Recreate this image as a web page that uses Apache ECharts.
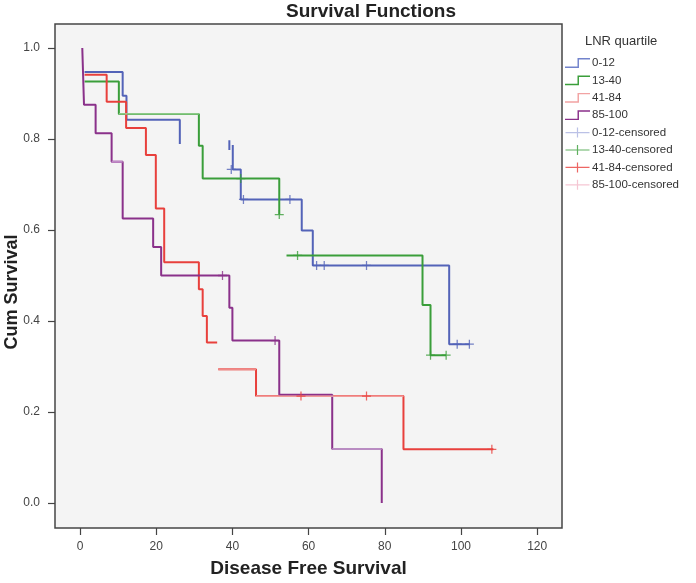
<!DOCTYPE html>
<html>
<head>
<meta charset="utf-8">
<script src="https://cdn.jsdelivr.net/npm/echarts@6/dist/echarts.min.js"></script>
<style>html,body{margin:0;padding:0;background:#fff;}#c{width:696px;height:583px;}</style>
</head>
<body>
<div id="c"></div>
<script>
// ---- data (time, cumulative survival); null marks a break in the drawn curve ----
const groupNames = ['0-12', '13-40', '41-84', '85-100'];
const censorNames = ['0-12-censored', '13-40-censored', '41-84-censored', '85-100-censored'];
const xTicks = [0, 20, 40, 60, 80, 100, 120];
const yTicks = [0.0, 0.2, 0.4, 0.6, 0.8, 1.0];

const time_0_12 = [1.2, 11.2, 12.2, 26.2, null, 39.2, 39.2, null, 40.1, 40.1, 42.2, 58.2, 61.1, 96.9, 102.3];
const surv_0_12 = [0.947, 0.895, 0.842, 0.789, null, 0.797, 0.776, null, 0.787, 0.733, 0.667, 0.599, 0.522, 0.349, 0.349];

const time_13_40 = [1.2, 10.2, 31.2, 32.2, 52.3, null, 54.2, 89.9, 92.0, 96.1];
const surv_13_40 = [0.926, 0.855, 0.785, 0.713, 0.634, null, 0.544, 0.435, 0.325, 0.325];

const time_41_84 = [1.2, 7.0, 12.1, 17.3, 19.9, 22.1, 31.2, 32.2, 33.3, 36.0, null, 36.3, 46.2, 84.9, 108.5];
const surv_41_84 = [0.941, 0.882, 0.824, 0.765, 0.647, 0.529, 0.470, 0.411, 0.353, 0.353, null, 0.294, 0.235, 0.118, 0.118];

const time_85_100 = [0.6, 1.05, 4.1, 8.3, 11.2, 19.2, 21.3, 39.2, 40.0, 52.3, 66.2, 79.2];
const surv_85_100 = [1.0, 0.875, 0.8125, 0.75, 0.625, 0.5625, 0.5, 0.429, 0.357, 0.238, 0.119, 0.0];

const censTime_0_12 = [39.7, 42.9, 55.1, 62.1, 64.1, 75.2, 99.0, 102.2];
const censSurv_0_12 = [0.733, 0.667, 0.667, 0.522, 0.522, 0.522, 0.349, 0.349];
const censTime_13_40 = [42.2, 52.3, 57.1, 92.0, 96.1];
const censSurv_13_40 = [0.713, 0.634, 0.544, 0.325, 0.325];
const censTime_41_84 = [58.0, 75.2, 108.1];
const censSurv_41_84 = [0.235, 0.235, 0.118];
const censTime_85_100 = [37.4, 51.2];
const censSurv_85_100 = [0.5, 0.357];

// ---- styling (kept apart from the data) ----
const lineColors = ['#5363b8', '#3a9e3a', '#e8403c', '#8a318a'];
const legendLineColors = ['#7283cc', '#3a9e3a', '#f2a3a3', '#8a318a'];
const legendCensColors = ['#aab2e0', '#3a9e3a', '#e8403c', '#f2b8c8'];
// faded horizontal runs in the picture: [group, point index]
const fadedRuns = [
  { g: 1, k: 1, color: '#a9d9a3', width: 1.3 },
  { g: 2, k: 11, color: '#ef8a88', width: 2 },
  { g: 2, k: 12, color: '#f6baba', width: 1.3 },
  { g: 3, k: 3, color: '#c08cc8', width: 2 },
  { g: 3, k: 10, color: '#b98cc2', width: 2 }
];

function pairs(t, s) {
  return t.map((v, i) => (v === null || s[i] === null) ? ['-', '-'] : [v, s[i]]);
}
const curves = [[time_0_12, surv_0_12], [time_13_40, surv_13_40], [time_41_84, surv_41_84], [time_85_100, surv_85_100]];
const cens = [[censTime_0_12, censSurv_0_12], [censTime_13_40, censSurv_13_40], [censTime_41_84, censSurv_41_84], [censTime_85_100, censSurv_85_100]];

const stepIcon = 'path://M0,9 L12,9 L12,1 L24,1 L24,2.4 L13.4,2.4 L13.4,10.4 L0,10.4 Z';
const censIcon = 'path://M0,4.4 L11.4,4.4 L11.4,0 L12.6,0 L12.6,4.4 L24,4.4 L24,5.6 L12.6,5.6 L12.6,10 L11.4,10 L11.4,5.6 L0,5.6 Z';
const plusSym = 'path://M4.3,0 L5.7,0 L5.7,4.3 L10,4.3 L10,5.7 L5.7,5.7 L5.7,10 L4.3,10 L4.3,5.7 L0,5.7 L0,4.3 L4.3,4.3 Z';

const series = [];
curves.forEach((c, i) => {
  series.push({
    name: groupNames[i], type: 'line',
    step: 'end', showSymbol: false, connectNulls: false, clip: false,
    data: pairs(c[0], c[1]),
    lineStyle: { color: lineColors[i], width: 2 },
    itemStyle: { color: lineColors[i] },
    z: 3
  });
});
fadedRuns.forEach(f => {
  const t = curves[f.g][0], s = curves[f.g][1];
  series.push({
    type: 'line', showSymbol: false, clip: false, silent: true,
    data: [[t[f.k], s[f.k]], [t[f.k + 1], s[f.k]]],
    lineStyle: { color: f.color, width: f.width }, z: 3.5
  });
});
cens.forEach((c, i) => {
  series.push({
    name: censorNames[i], type: 'scatter',
    symbol: plusSym, symbolSize: 9, clip: false,
    data: pairs(c[0], c[1]),
    itemStyle: { color: lineColors[i] },
    z: 4
  });
});

const legendData = groupNames.map((n, i) => ({ name: n, icon: stepIcon, itemStyle: { color: legendLineColors[i] } }))
  .concat(censorNames.map((n, i) => ({ name: n, icon: censIcon, itemStyle: { color: legendCensColors[i] } })));

const font = "'Liberation Sans', Arial, sans-serif";
const option = {
  backgroundColor: '#ffffff',
  animation: false,
  textStyle: { fontFamily: font },
  title: [
    { text: 'Survival Functions', left: 366, textAlign: 'center', top: -3,
      textStyle: { fontFamily: font, fontWeight: 'bold', fontSize: 19, color: '#222' } },
    { text: 'LNR quartile', left: 580, top: 30,
      textStyle: { fontFamily: font, fontWeight: 'normal', fontSize: 13, color: '#333' } }
  ],
  legend: {
    orient: 'vertical', left: 560, top: 52, itemWidth: 25, itemHeight: 10, itemGap: 5.4,
    textStyle: { fontFamily: font, fontSize: 11.5, lineHeight: 12, color: '#333', padding: [0, 0, 0, -3] },
    data: legendData, selectedMode: false
  },
  grid: { left: 55, top: 24, width: 507, height: 505, show: true, backgroundColor: '#f4f4f4',
      borderColor: '#454545', borderWidth: 1.5 },
  xAxis: { type: 'value', min: -6.562, max: 126.51,
      axisLine: { show: false, onZero: false },
      axisTick: { show: true, length: 7, customValues: xTicks, lineStyle: { color: '#444', width: 1.2 } },
      axisLabel: { margin: 13, color: '#444', fontSize: 12, fontFamily: font, customValues: xTicks,
        formatter: v => String(Math.round(v)) },
      splitLine: { show: false },
      name: 'Disease Free Survival', nameLocation: 'middle', nameGap: 31,
      nameTextStyle: { fontFamily: font, fontWeight: 'bold', fontSize: 19, color: '#222' } },
  yAxis: { type: 'value', min: -0.0548, max: 1.0526,
      axisLine: { show: false, onZero: false },
      axisTick: { show: true, length: 7, customValues: yTicks, lineStyle: { color: '#444', width: 1.2 } },
      axisLabel: { margin: 15, color: '#444', fontSize: 12, fontFamily: font, customValues: yTicks,
        formatter: v => v.toFixed(1) },
      splitLine: { show: false } },
  graphic: [
    { type: 'text', x: 12, y: 292, rotation: Math.PI / 2,
      style: { text: 'Cum Survival', align: 'center', verticalAlign: 'middle',
        font: "bold 18px 'Liberation Sans', Arial, sans-serif", fill: '#222' } }
  ],
  series: series
};
const chart = echarts.init(document.getElementById('c'), null, { renderer: 'canvas' });
chart.setOption(option);
</script>
</body>
</html>
